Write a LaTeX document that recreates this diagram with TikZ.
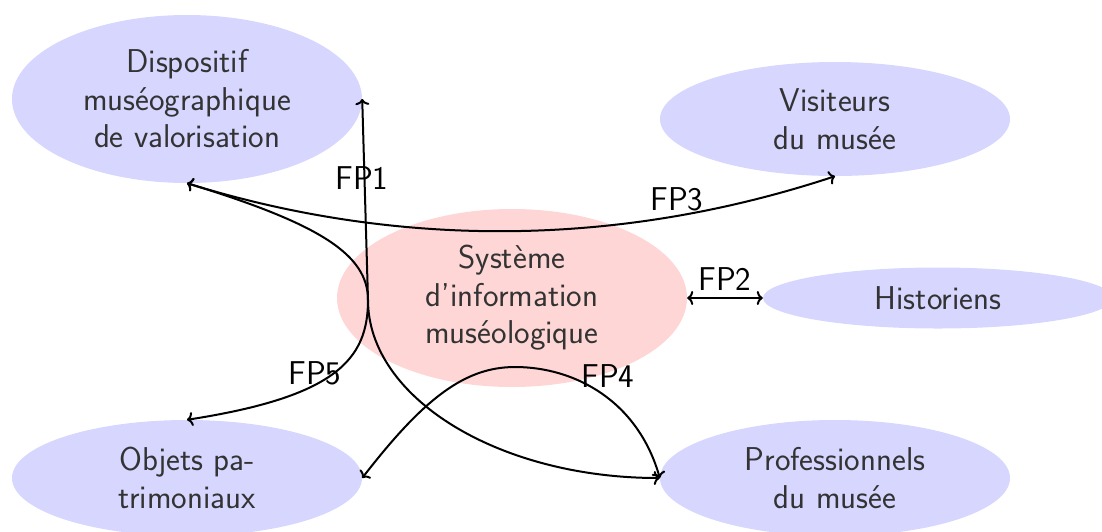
\documentclass[tikz,border=0pt]{standalone}
\usetikzlibrary{shapes.geometric,arrows.meta}
\begin{document}
\begin{tikzpicture}[x=1pt,y=-1pt,
  every node/.style={font=\sffamily\fontsize{33}{37.5}\selectfont},
  actor/.style={ellipse,fill=blue!16,text=black!80,align=center,inner sep=0pt,minimum width=350pt},
  sysbox/.style={ellipse,fill=red!16,text=black!80,align=center,inner sep=0pt,minimum width=350pt},
  fplabel/.style={text=black,inner sep=0pt},
  link/.style={{To[length=6pt,width=14pt]}-{To[length=6pt,width=14pt]},line width=2pt}]
\useasboundingbox (0,0) rectangle (1102,531);
\node[actor,minimum height=168pt] (disp) at (187,99) {Dispositif\\muséographique\\de valorisation};
\node[actor,minimum height=114pt] (vis) at (835,119) {Visiteurs\\du musée};
\node[sysbox,minimum height=178pt] (sys) at (512,298) {Système\\d'information\\muséologique};
\node[actor,minimum height=61pt] (hist) at (938,298) {Historiens};
\node[actor,minimum height=116pt] (obj) at (187,478) {Objets pa-\\trimoniaux};
\node[actor,minimum height=116pt] (pro) at (835,478) {Professionnels\\du musée};
\coordinate (k5) at (368,300);
\coordinate (k1) at (368,300);
\coordinate (k4) at (515,367);
\draw[link] (disp.south) .. controls +(134,41) and +(0,-45) .. (k5)
  .. controls +(0,60) and +(148,-23) .. (obj.north);
\draw[link] (disp.south) .. controls +(150,46.5) and +(-270,89) .. (vis.south);
\draw[link] (disp.east) -- (k1) .. controls +(0,98) and +(-161,0) .. (pro.west);
\draw[link] (obj.east) .. controls +(62,-80) and +(-50,0) .. (k4)
  .. controls +(60,0) and +(-22,-77) .. (pro.west);
\draw[link] (sys.east) -- (hist.west);
\node[fplabel] (l1) at (362,178) {FP1};
\node[fplabel] (l2) at (725,279) {FP2};
\node[fplabel] (l3) at (677,199) {FP3};
\node[fplabel] (l4) at (608,376) {FP4};
\node[fplabel] (l5) at (315,373) {FP5};
\end{tikzpicture}
\end{document}
